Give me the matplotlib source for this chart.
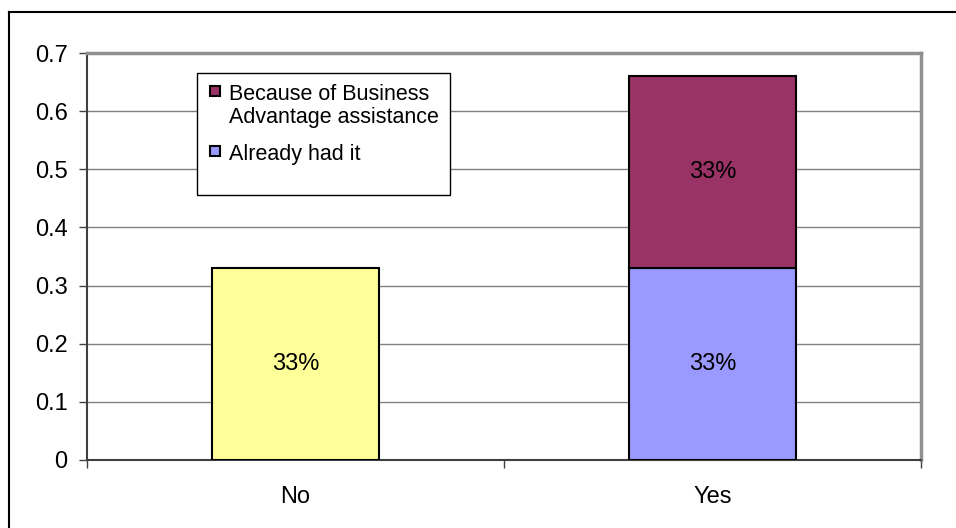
import numpy as np
import matplotlib.pyplot as plt
from matplotlib.patches import Rectangle
from matplotlib.lines import Line2D

plt.rcParams['font.family'] = ['Liberation Sans', 'DejaVu Sans']

# Data
categories = ['No', 'Yes']
already_had = [0.33, 0.33]
because_ba = [0.0, 0.33]
bar_labels_bottom = ['33%', '33%']
bar_labels_top = ['', '33%']
yticks = [0, 0.1, 0.2, 0.3, 0.4, 0.5, 0.6, 0.7]
legend_labels = ['Because of Business\nAdvantage assistance', 'Already had it']

YELLOW = '#FFFF99'
BLUE = '#9999FF'
MAROON = '#993366'

W, H = 956, 528
fig = plt.figure(figsize=(W / 100, H / 100), dpi=100)
# plot area in pixels: left 87, right 921, top 53, bottom 460
AX_L, AX_R, AX_T, AX_B = 87, 921, 53, 460
ax = fig.add_axes([AX_L / W, 1 - AX_B / H, (AX_R - AX_L) / W, (AX_B - AX_T) / H])


def px(xp, yp):
    # pixel position -> axes fraction
    return ((xp - AX_L) / (AX_R - AX_L), (AX_B - yp) / (AX_B - AX_T))


x = np.arange(len(categories))
width = 0.4

# bottom segment: "No" is yellow, "Yes" is blue
bottom_colors = [YELLOW, BLUE]
ax.bar(x, already_had, width, color=bottom_colors, edgecolor='black',
       linewidth=1.5, zorder=3)
ax.bar(x[1:], because_ba[1:], width, bottom=already_had[1:], color=MAROON,
       edgecolor='black', linewidth=1.5, zorder=3)

for i in range(len(categories)):
    ax.text(x[i], already_had[i] / 2, bar_labels_bottom[i], ha='center',
            va='center', fontsize=17, zorder=4)
    if bar_labels_top[i]:
        ax.text(x[i], already_had[i] + because_ba[i] / 2, bar_labels_top[i],
                ha='center', va='center', fontsize=17, zorder=4)

ax.set_xlim(-0.5, 1.5)
ax.set_ylim(0, 0.7)
ax.set_yticks(yticks)
ax.set_yticklabels(['0' if v == 0 else '%g' % v for v in yticks], fontsize=17)
ax.set_xticks(x)
ax.set_xticklabels(categories, fontsize=17)
ax.set_xticks([-0.5, 0.5, 1.5], minor=True)
ax.tick_params(axis='x', which='major', length=0, pad=18.5)
ax.tick_params(axis='x', which='minor', length=6, width=1, color='#404040',
               direction='out')
ax.tick_params(axis='y', length=6, width=1, color='#404040', pad=8)

ax.yaxis.grid(True, color='#808080', linewidth=1, zorder=0)
ax.set_axisbelow(True)

for s in ['top', 'right']:
    ax.spines[s].set_color('#909090')
    ax.spines[s].set_linewidth(2.5)
for s in ['left', 'bottom']:
    ax.spines[s].set_color('#404040')
    ax.spines[s].set_linewidth(1.5)

# legend drawn by hand to match the boxed layout
x0, y0 = px(197, 195)
x1, y1 = px(450, 73)
ax.add_patch(Rectangle((x0, y0), x1 - x0, y1 - y0, transform=ax.transAxes,
                       facecolor='white', edgecolor='black', linewidth=1,
                       zorder=5))
legend_colors = [MAROON, BLUE]
swatch_top = [86, 146]
for lbl, col, top in zip(legend_labels, legend_colors, swatch_top):
    sx0, sy0 = px(210, top + 10)
    sx1, sy1 = px(220, top)
    ax.add_patch(Rectangle((sx0, sy0), sx1 - sx0, sy1 - sy0,
                           transform=ax.transAxes, facecolor=col,
                           edgecolor='black', linewidth=1.5, zorder=6))
    tx, ty = px(229, top - 2)
    ax.text(tx, ty, lbl, transform=ax.transAxes, ha='left', va='top',
            fontsize=15.5, linespacing=1.15, zorder=6)

# figure border (top and left visible)
fig.add_artist(Line2D([9 / W, 9 / W], [0, 1 - 12 / H],
                      transform=fig.transFigure, color='black', lw=1.5))
fig.add_artist(Line2D([9 / W, 1], [1 - 12 / H, 1 - 12 / H],
                      transform=fig.transFigure, color='black', lw=1.5))

fig.savefig('out.png', dpi=100)
